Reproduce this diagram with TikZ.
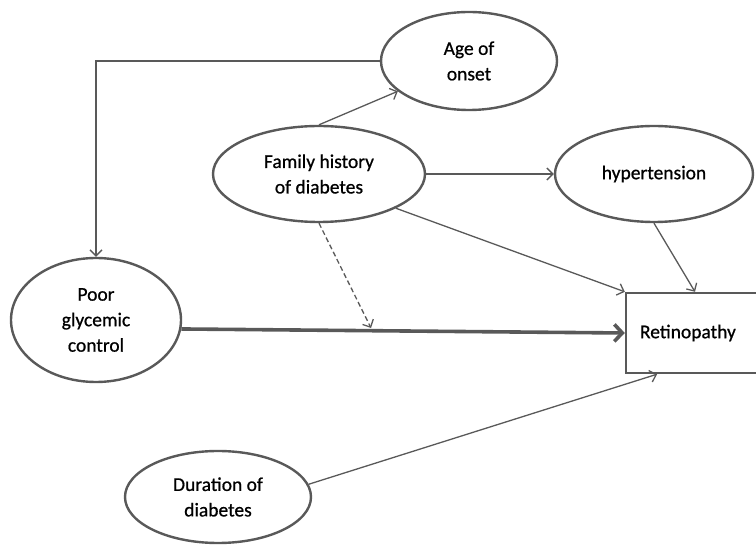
\documentclass[tikz,border=0pt]{standalone}
\usepackage{fontspec}
\setmainfont{Carlito}
\newfontfamily\labelfont{Carlito}[FakeBold=0.7]
\usetikzlibrary{shapes.geometric,arrows.meta,calc}
\definecolor{linegray}{RGB}{89,89,89}
\tikzset{
  oval/.style={ellipse, draw=linegray, line width=2.4pt, inner sep=0pt, align=center, font=\labelfont\fontsize{19.5}{25.5}\selectfont},
  retbox/.style={rectangle, draw=linegray, line width=2.4pt, minimum width=138pt, minimum height=80pt, inner xsep=14pt, text width=110pt, align=left, font=\labelfont\fontsize{19.5}{25.5}\selectfont},
  arr/.style={draw=linegray, line width=1.3pt, -{Straight Barb[length=6pt,width=12pt]}},
  dasharr/.style={arr, dash pattern=on 5pt off 3pt},
  thickarr/.style={draw=linegray, line width=3.6pt, -{Straight Barb[length=8pt,width=17pt]}},
}
\begin{document}
\begin{tikzpicture}[x=1pt,y=-1pt]
\useasboundingbox (0,0) rectangle (756,545);
\clip (0,0) rectangle (756,545);
\node[oval, minimum width=176pt, minimum height=98pt] (age) at (469,61) {Age of\\onset};
\node[oval, minimum width=212pt, minimum height=96pt] (fam) at (319,174) {Family history\\of diabetes};
\node[oval, minimum width=198pt, minimum height=96pt] (hyp) at (654,174) {hypertension};
\node[oval, minimum width=170pt, minimum height=124pt] (poor) at (96,320) {Poor\\glycemic\\control};
\node[oval, minimum width=186pt, minimum height=92pt] (dur) at (218,497) {Duration of\\diabetes};
\node[retbox] (ret) at (695,333) {Retinopathy};
\coordinate (mid) at (371,328);
\draw[arr] (age.west) -| (poor.north);
\draw[arr] (fam.north) -- (age);
\draw[arr] (fam.east) -- (hyp.west);
\draw[arr] (fam.-24) -- (ret.north west);
\draw[arr] (hyp.south) -- (ret.north);
\draw[thickarr] (poor.-6) -- (ret.west);
\draw[dasharr] (fam.south) -- (mid);
\draw[arr] (dur.8) -- ($(ret.south west)!0.23!(ret.south east)$);
\end{tikzpicture}
\end{document}
